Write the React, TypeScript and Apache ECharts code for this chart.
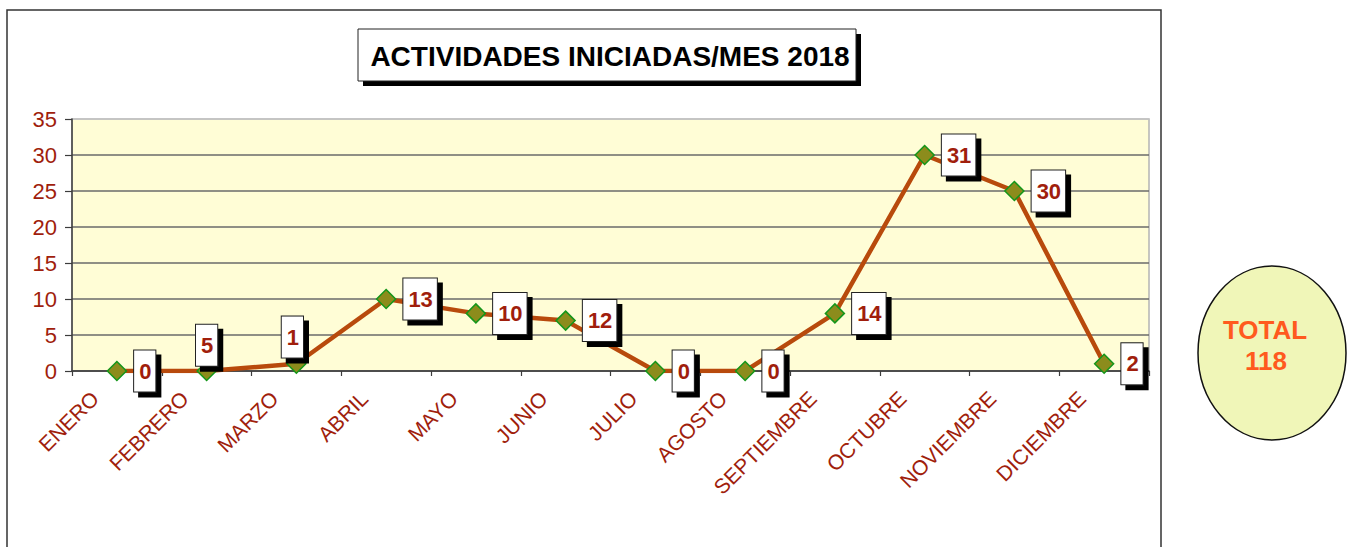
import React, { useEffect, useRef } from 'react';
import * as echarts from 'echarts';

const months = ['ENERO', 'FEBRERO', 'MARZO', 'ABRIL', 'MAYO', 'JUNIO', 'JULIO', 'AGOSTO', 'SEPTIEMBRE', 'OCTUBRE', 'NOVIEMBRE', 'DICIEMBRE'];
// plotted marker positions (as drawn in the picture)
const plottedValues = [0, 0, 1, 10, 8, 7, 0, 0, 8, 30, 25, 1];
// values written in the data-label boxes
const labelValues = [0, 5, 1, 13, 10, 12, 0, 0, 14, 31, 30, 2];
const yMin = 0;
const yMax = 35;
const yStep = 5;
const chartTitle = 'ACTIVIDADES INICIADAS/MES 2018';
const totalCaption = 'TOTAL';

const FONT = 'Liberation Sans, Arial, Helvetica, sans-serif';
const RED = '#A01E0C';

export default function App() {
  const ref = useRef<HTMLDivElement>(null);

  useEffect(() => {
    if (!ref.current) return;
    const chart = echarts.init(ref.current, undefined, { renderer: 'svg' });
    const total = labelValues.reduce((a, b) => a + b, 0);

    const data = plottedValues.map((v, i) => {
      const item: any = { value: v, label: { formatter: String(labelValues[i]) } };
      if (i === 1) item.label = { ...item.label, position: 'top', distance: -5 };
      if (i === 2) item.label = { ...item.label, position: 'top', distance: -4, offset: [-4, 0] };
      return item;
    });

    const splitColors = [] as string[];
    for (let v = yMin; v <= yMax; v += yStep) splitColors.push(v === yMax ? '#C4C4C4' : '#6A6A6A');

    chart.setOption({
      animation: false,
      backgroundColor: '#ffffff',
      grid: {
        left: 72,
        top: 119,
        right: 202,
        bottom: 176,
        show: true,
        backgroundColor: '#FFFDD6',
        borderColor: '#B4B4B4',
        borderWidth: 1.5,
      },
      xAxis: {
        type: 'category',
        data: months,
        boundaryGap: true,
        axisLine: { show: true, lineStyle: { color: '#3C3C3C', width: 1.5 } },
        axisTick: { show: true, length: 5, lineStyle: { color: '#3C3C3C', width: 1.2 } },
        axisLabel: {
          interval: 0,
          rotate: 45,
          margin: 2,
          padding: [0, 31, 0, 0],
          color: RED,
          fontSize: 21,
          fontFamily: FONT,
        },
        splitLine: { show: false },
      },
      yAxis: {
        type: 'value',
        min: yMin,
        max: yMax,
        interval: yStep,
        axisLine: { show: true, lineStyle: { color: '#3C3C3C', width: 1.5 } },
        axisTick: { show: true, length: 7, lineStyle: { color: '#3C3C3C', width: 1.2 } },
        axisLabel: { color: RED, fontSize: 22, fontFamily: FONT, margin: 15 },
        splitLine: { show: true, lineStyle: { color: splitColors, width: 1.6 } },
      },
      series: [
        {
          type: 'line',
          data,
          symbol: 'diamond',
          symbolSize: 19,
          showAllSymbol: true,
          lineStyle: { color: '#B84A0C', width: 4.5 },
          itemStyle: { color: '#8C8C1C', borderColor: '#14961A', borderWidth: 1.5 },
          label: {
            show: true,
            position: 'right',
            distance: 7,
            color: RED,
            fontFamily: FONT,
            fontWeight: 'bold',
            fontSize: 22,
            lineHeight: 22,
            backgroundColor: '#ffffff',
            borderColor: '#222222',
            borderWidth: 1,
            padding: [10, 4, 9, 5],
            shadowColor: '#000000',
            shadowBlur: 0,
            shadowOffsetX: 5,
            shadowOffsetY: 5,
          },
          emphasis: { disabled: true },
          z: 3,
        },
      ],
      graphic: [
        {
          type: 'rect',
          silent: true,
          shape: { x: 7, y: 10, width: 1154, height: 600 },
          style: { fill: 'none', stroke: '#333333', lineWidth: 1.5 },
          z: -10,
        },
        {
          type: 'group',
          silent: true,
          children: [
            {
              type: 'rect',
              shape: { x: 363, y: 34, width: 498, height: 52 },
              style: { fill: '#000000' },
            },
            {
              type: 'rect',
              shape: { x: 358, y: 29, width: 498, height: 52 },
              style: { fill: '#ffffff', stroke: '#222222', lineWidth: 1 },
            },
            {
              type: 'text',
              x: 610,
              y: 56,
              style: {
                text: chartTitle,
                fill: '#000000',
                font: `bold 28px ${FONT}`,
                align: 'center',
                verticalAlign: 'middle',
              },
            },
          ],
        },
        {
          type: 'group',
          silent: true,
          children: [
            {
              type: 'ellipse',
              shape: { cx: 1272, cy: 353, rx: 74, ry: 87 },
              style: { fill: '#F0F6B8', stroke: '#111111', lineWidth: 1.5 },
            },
            {
              type: 'text',
              x: 1265,
              y: 330,
              style: {
                text: totalCaption,
                fill: '#FF5A1E',
                font: `bold 26px ${FONT}`,
                align: 'center',
                verticalAlign: 'middle',
              },
            },
            {
              type: 'text',
              x: 1266,
              y: 361,
              style: {
                text: String(total),
                fill: '#FF5A1E',
                font: `bold 26px ${FONT}`,
                align: 'center',
                verticalAlign: 'middle',
              },
            },
          ],
        },
      ],
    });

    return () => chart.dispose();
  }, []);

  return (
    <div
      ref={ref}
      style={{ position: 'fixed', left: 0, top: 0, width: 1351, height: 547, background: '#fff' }}
    />
  );
}
